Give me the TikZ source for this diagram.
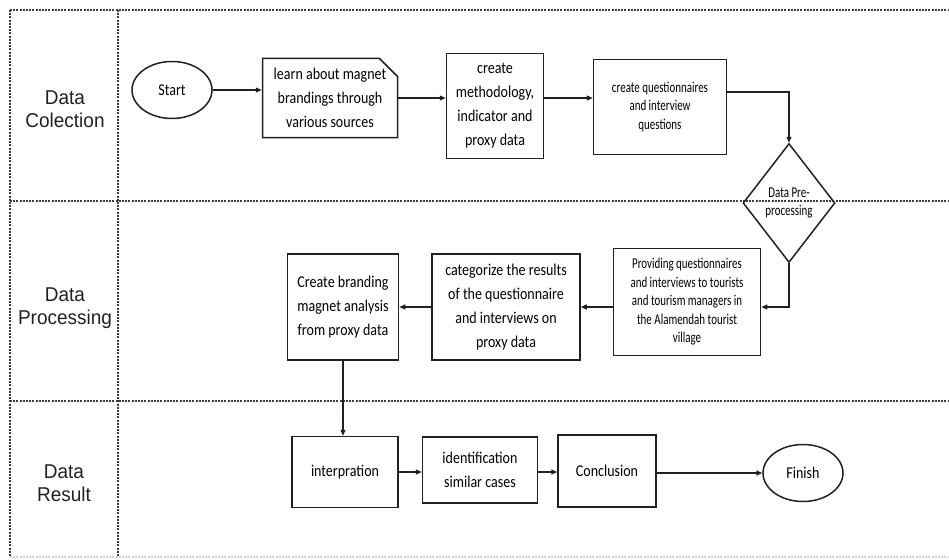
\documentclass[tikz,border=0pt]{standalone}
\usepackage{fontspec}
\usepackage{xcolor}
\usepackage{tikz}
\usetikzlibrary{arrows.meta}
\usetikzlibrary{shapes.geometric, shapes.misc}
\newfontfamily\boxfont[FakeStretch=0.85]{Carlito}
\newfontfamily\smallfont[FakeStretch=0.73]{Carlito}
\newfontfamily\lanefont[FakeStretch=0.95]{Liberation Sans}
\definecolor{lanegray}{rgb}{0.22, 0.25, 0.31}
\definecolor{boxgray}{rgb}{0.13, 0.13, 0.13}

\tikzset{
  lane/.style={dash pattern=on 2pt off 1.2pt, lanegray, line width=1.1pt},
  lanelabel/.style={font=\lanefont\fontsize{20}{23}\selectfont, align=center, text=boxgray},
  stepbox/.style={draw=boxgray, line width=1.5pt, inner sep=0pt, align=center, font=\boxfont\fontsize{16.5}{24}\selectfont},
  smalltext/.style={font=\smallfont\fontsize{15}{18.5}\selectfont},
  terminal/.style={stepbox, ellipse, minimum width=80pt, minimum height=57pt},
  decision/.style={stepbox, diamond, minimum width=92pt, minimum height=119pt, smalltext},
  flow/.style={-{Triangle[length=6pt,width=5pt]}, line width=1.3pt, boxgray}
}

\begin{document}
\begin{tikzpicture}[x=1pt, y=-1pt]
            \useasboundingbox (0,0) rectangle (949,559);

            % Lanes
            \draw[lane] (10,10) -- (949,10);
            \draw[lane] (10,201) -- (949,201);
            \draw[lane] (10,401) -- (949,401);
            \draw[lane, gray!35] (10,557) -- (949,557);
            \draw[lane] (10,10) -- (10,557);
            \draw[lane] (118,10) -- (118,557);

            % Lane titles
            \node[lanelabel] (lcol) at (65,109) {Data\\Colection};
            \node[lanelabel] (lproc) at (65,308) {Data\\Processing};
            \node[lanelabel] (lres) at (64,483) {Data\\Result};

            % Data collection
            \node[terminal] (start) at (172,90) {Start};
            \node[stepbox, chamfered rectangle, chamfered rectangle corners=north east,
                  chamfered rectangle xsep=9pt, chamfered rectangle ysep=9pt,
                  minimum width=135pt, minimum height=79pt] (learn) at (330,98)
                  {learn about magnet\\brandings through\\various sources};
            \node[stepbox, minimum width=97pt, minimum height=105pt] (method) at (495,106)
                  {create\\methodology,\\indicator and\\proxy data};
            \node[stepbox, smalltext, minimum width=133pt, minimum height=95pt] (quest) at (660,107)
                  {create questionnaires\\and interview\\questions};
            \node[decision] (prep) at (789,203) {Data Pre-\\processing};

            % Data processing
            \node[stepbox, smalltext, minimum width=147pt, minimum height=107pt] (provide) at (687,302)
                  {Providing questionnaires\\and interviews to tourists\\and tourism managers in\\the Alamendah tourist\\village};
            \node[stepbox, minimum width=148pt, minimum height=106pt] (categ) at (506,307)
                  {categorize the results\\of the questionnaire\\and interviews on\\proxy data};
            \node[stepbox, minimum width=111pt, minimum height=106pt] (analysis) at (343,307)
                  {Create branding\\magnet analysis\\from proxy data};

            % Data result
            \node[stepbox, minimum width=106pt, minimum height=71pt] (interp) at (345,472) {interpration};
            \node[stepbox, minimum width=115pt, minimum height=66pt] (ident) at (480,470) {identification\\similar cases};
            \node[stepbox, minimum width=98pt, minimum height=72pt] (concl) at (607,471) {Conclusion};
            \node[terminal] (finish) at (803,473) {Finish};

            % Flow
            \draw[flow] (start.east) -- (start.east -| learn.west);
            \draw[flow] (learn.east) -- (learn.east -| method.west);
            \draw[flow] (learn.east -| method.east) -- (learn.east -| quest.west);
            \draw[flow] ([yshift=15pt]quest.east) -| (prep.north);
            \draw[flow] (prep.south) |- (categ.east -| provide.east);
            \draw[flow] (categ.east -| provide.west) -- (categ.east);
            \draw[flow] (categ.west) -- (analysis.east);
            \draw[flow] (analysis.south) -- (analysis.south |- interp.north);
            \draw[flow] (interp.east) -- (interp.east -| ident.west);
            \draw[flow] (interp.east -| ident.east) -- (interp.east -| concl.west);
            \draw[flow] (finish.west -| concl.east) -- (finish.west);
\end{tikzpicture}
\end{document}
